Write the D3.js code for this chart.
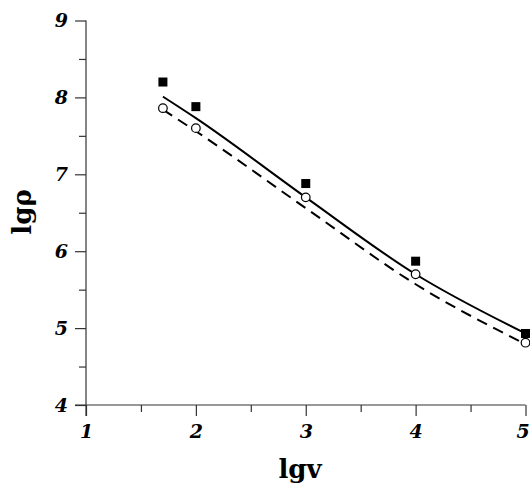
<!DOCTYPE html>
<html>
<head>
<meta charset="utf-8">
<script src="https://cdn.jsdelivr.net/npm/d3@7"></script>
<style>
  html, body { margin: 0; padding: 0; background: #fff; }
  svg { display: block; }
</style>
</head>
<body>
<svg id="chart" width="530" height="486"></svg>
<script>
// Data
const squareX = [1.7, 2, 3, 4, 5];
const squareY = [8.20, 7.88, 6.88, 5.87, 4.93];
const circleX = [1.7, 2, 3, 4, 5];
const circleY = [7.86, 7.60, 6.70, 5.70, 4.81];
const solidX = [1.7, 2, 3, 4, 5];
const solidY = [8.01, 7.73, 6.70, 5.70, 4.93];
const dashX = [1.7, 2, 3, 4, 5];
const dashY = [7.84, 7.56, 6.56, 5.57, 4.79];
const xTicks = [1, 2, 3, 4, 5];
const yTicks = [4, 5, 6, 7, 8, 9];
const xLabel = "lgv";
const yLabel = "lgρ";

const svg = d3.select("#chart");
const x = d3.scaleLinear().domain([1, 5]).range([86, 525.5]);
const y = d3.scaleLinear().domain([4, 9]).range([405, 20.5]);

const xMinor = d3.range(1.5, 5, 1);
const yMinor = d3.range(4.5, 9, 1);

const gx = svg.append("g").attr("transform", `translate(0,${y(4)})`);
gx.call(d3.axisBottom(x).tickValues(xTicks).tickFormat(d3.format("d")).tickSize(11).tickPadding(9));
gx.append("g").call(d3.axisBottom(x).tickValues(xMinor).tickFormat("").tickSize(7))
  .select(".domain").remove();
gx.selectAll("path.domain").attr("d", `M${x(1) - 11},0H${x(5)}`);

const gy = svg.append("g").attr("transform", `translate(${x(1)},0)`);
gy.call(d3.axisLeft(y).tickValues(yTicks).tickFormat(d3.format("d")).tickSize(11).tickPadding(7));
gy.append("g").call(d3.axisLeft(y).tickValues(yMinor).tickFormat("").tickSize(7))
  .select(".domain").remove();
gy.selectAll("path.domain").attr("d", `M0,${y(9)}V${y(4) + 11}`);

svg.selectAll(".domain, .tick line").attr("stroke", "#333").attr("stroke-width", 1.2);
svg.selectAll(".tick text")
  .style("font-family", "DejaVu Serif, serif")
  .style("font-weight", "bold").style("font-style", "italic")
  .style("font-size", "19px").attr("fill", "#000");
gx.selectAll(".tick text").attr("dy", "0.71em");
gx.selectAll(".tick text").filter(d => d === 5).attr("dx", "-3");

// labels
svg.append("text").attr("x", 300).attr("y", 478)
  .attr("text-anchor", "middle")
  .style("font-family", "DejaVu Serif, serif").style("font-size", "26px").style("font-weight", "bold")
  .text(xLabel);
svg.append("text").attr("transform", "translate(31,212) rotate(-90)")
  .attr("text-anchor", "middle")
  .style("font-family", "DejaVu Serif, serif").style("font-size", "26px").style("font-weight", "bold")
  .text(yLabel);

// lines
const line = d3.line().x(d => x(d[0])).y(d => y(d[1])).curve(d3.curveMonotoneX);
svg.append("path").datum(d3.zip(dashX, dashY)).attr("d", line)
  .attr("fill", "none").attr("stroke", "#000").attr("stroke-width", 2)
  .attr("stroke-dasharray", "11,7");
svg.append("path").datum(d3.zip(solidX, solidY)).attr("d", line)
  .attr("fill", "none").attr("stroke", "#000").attr("stroke-width", 2);

// markers
svg.append("g").selectAll("rect").data(d3.zip(squareX, squareY)).join("rect")
  .attr("x", d => x(d[0]) - 4.5).attr("y", d => y(d[1]) - 4.5)
  .attr("width", 9).attr("height", 9).attr("fill", "#000");
svg.append("g").selectAll("circle").data(d3.zip(circleX, circleY)).join("circle")
  .attr("cx", d => x(d[0])).attr("cy", d => y(d[1])).attr("r", 4.3)
  .attr("fill", "#fff").attr("stroke", "#000").attr("stroke-width", 1.2);
</script>
</body>
</html>
